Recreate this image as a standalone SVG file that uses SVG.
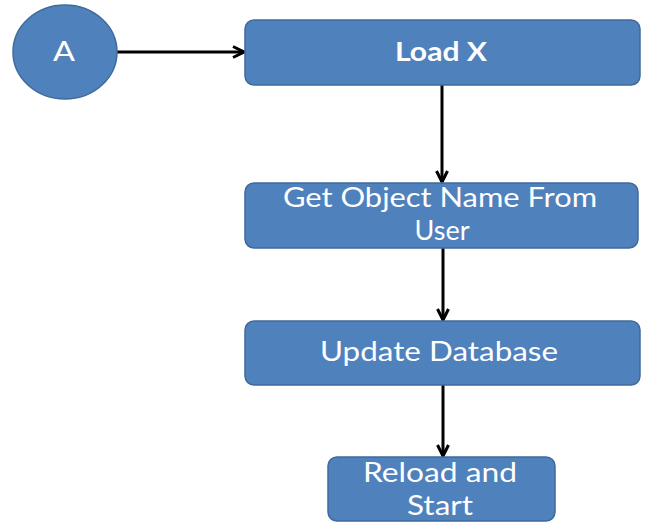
<svg xmlns="http://www.w3.org/2000/svg" width="645" height="522" viewBox="0 0 645 522">
<style>
.node{fill:#4F81BD;stroke:#3F6A9C;stroke-width:1.5}
.lbl{fill:#FFFFFF;font-family:Lato,"Open Sans",sans-serif;text-anchor:middle;font-size:27px}
.edge{stroke:#000;stroke-width:3;fill:none}
</style>
<defs>
<marker id="arr" viewBox="0 0 14 14" refX="12.5" refY="7" markerWidth="14" markerHeight="14" markerUnits="userSpaceOnUse" orient="auto">
<path d="M1.5,1.5 L12.5,7 L1.5,12.5" fill="none" stroke="#000" stroke-width="3"/>
</marker>
</defs>
<rect width="645" height="522" fill="#FFFFFF"/>
<g id="connectors">
<line class="edge" x1="117" y1="52" x2="244" y2="52" marker-end="url(#arr)"/>
<line class="edge" x1="442" y1="85" x2="442" y2="182" marker-end="url(#arr)"/>
<line class="edge" x1="443" y1="248" x2="443" y2="320" marker-end="url(#arr)"/>
<line class="edge" x1="443" y1="385" x2="443" y2="456" marker-end="url(#arr)"/>
</g>
<g id="nodeA">
<ellipse class="node" cx="65" cy="52" rx="52" ry="47"/>
<text class="lbl" x="64" y="61" textLength="22" lengthAdjust="spacingAndGlyphs">A</text>
</g>
<g id="loadX">
<rect class="node" x="245" y="20" width="395" height="65" rx="9"/>
<text class="lbl" x="441" y="61" font-weight="bold" textLength="92" lengthAdjust="spacingAndGlyphs">Load X</text>
</g>
<g id="getName">
<rect class="node" x="245" y="183" width="393" height="65" rx="9"/>
<text class="lbl" x="440" y="207" textLength="314" lengthAdjust="spacingAndGlyphs">Get Object Name From</text>
<text class="lbl" x="442" y="240" textLength="55" lengthAdjust="spacingAndGlyphs">User</text>
</g>
<g id="update">
<rect class="node" x="245" y="321" width="395" height="64" rx="9"/>
<text class="lbl" x="439" y="361" textLength="238" lengthAdjust="spacingAndGlyphs">Update Database</text>
</g>
<g id="reload">
<rect class="node" x="328" y="457" width="227" height="64" rx="9"/>
<text class="lbl" x="440" y="482" textLength="154" lengthAdjust="spacingAndGlyphs">Reload and</text>
<text class="lbl" x="440" y="515" textLength="66" lengthAdjust="spacingAndGlyphs">Start</text>
</g>
</svg>
